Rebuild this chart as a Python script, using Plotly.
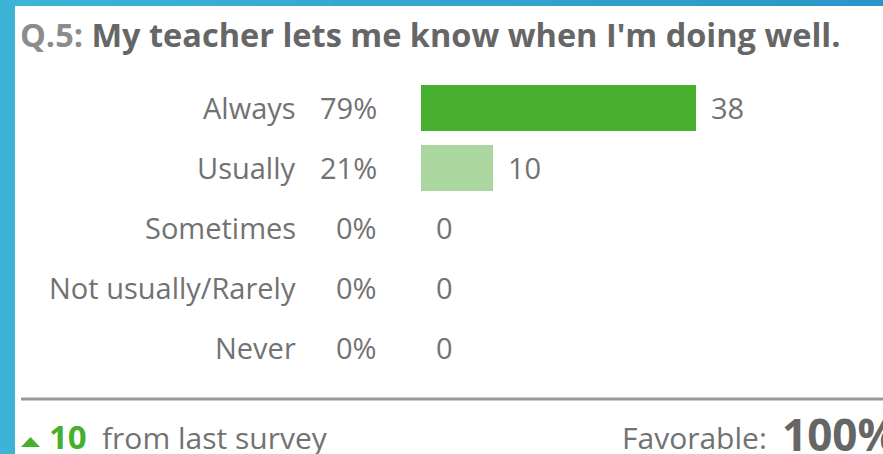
import plotly.graph_objects as go

# Survey responses for question 5
categories = ["Always", "Usually", "Sometimes", "Not usually/Rarely", "Never"]
counts = [38, 10, 0, 0, 0]
percents = [79, 21, 0, 0, 0]
bar_colors = ["#46b02e", "#acd6a0", "#acd6a0", "#acd6a0", "#acd6a0"]

question_no = "Q.5:"
question_text = "My teacher lets me know when I'm doing well."
change_from_last = 10
favorable_pct = 100

W, H = 883, 454
FONT = "Open Sans"
GRAY = "#727272"


def px(x):
    return x / W


def py(y):
    return 1 - y / H


fig = go.Figure()

fig.add_trace(go.Bar(
    y=categories,
    x=counts,
    orientation="h",
    marker=dict(color=bar_colors, line=dict(width=0)),
    width=0.77,
    hoverinfo="skip",
    showlegend=False,
))

annotations = []

# Category names and percentages to the left of the bars
for cat, pct in zip(categories, percents):
    annotations.append(dict(
        x=px(298), xref="paper", y=cat, yref="y",
        text=cat, showarrow=False, xanchor="right", yanchor="middle",
        font=dict(family=FONT, size=29, color=GRAY),
    ))
    annotations.append(dict(
        x=px(379), xref="paper", y=cat, yref="y",
        text=f"{pct}%", showarrow=False, xanchor="right", yanchor="middle",
        font=dict(family=FONT, size=29, color=GRAY),
    ))

# Count labels just past the end of each bar
for cat, n in zip(categories, counts):
    annotations.append(dict(
        x=n, xref="x", y=cat, yref="y",
        text=str(n), showarrow=False, xanchor="left", yanchor="middle",
        xshift=13,
        font=dict(family=FONT, size=29, color=GRAY),
    ))

# Question title
annotations.append(dict(
    x=px(18), xref="paper", y=py(34), yref="paper",
    text=f"<b><span style='color:#8c8c8c'>{question_no}</span> {question_text}</b>",
    showarrow=False, xanchor="left", yanchor="middle",
    font=dict(family=FONT, size=32.5, color="#666666"),
))

# Footer: change since last survey and favorable share
annotations.append(dict(
    x=px(47), xref="paper", y=py(436), yref="paper",
    text=f"<b>{change_from_last}</b>", showarrow=False,
    xanchor="left", yanchor="middle",
    font=dict(family=FONT, size=33, color="#46b02e"),
))
annotations.append(dict(
    x=px(100), xref="paper", y=py(437), yref="paper",
    text="from last survey", showarrow=False,
    xanchor="left", yanchor="middle",
    font=dict(family=FONT, size=30, color=GRAY),
))
annotations.append(dict(
    x=px(620), xref="paper", y=py(437), yref="paper",
    text="Favorable:", showarrow=False,
    xanchor="left", yanchor="middle",
    font=dict(family=FONT, size=30, color=GRAY),
))
annotations.append(dict(
    x=px(780), xref="paper", y=py(434), yref="paper",
    text=f"<b>{favorable_pct}%</b>", showarrow=False,
    xanchor="left", yanchor="middle",
    font=dict(family=FONT, size=44, color="#666666"),
))

shapes = [
    # white card on the blue background
    dict(type="rect", xref="paper", yref="paper",
         x0=px(15), x1=1.01, y0=-0.01, y1=py(6),
         fillcolor="white", line=dict(width=0), layer="below"),
    # divider above the footer
    dict(type="line", xref="paper", yref="paper",
         x0=px(21), x1=1.01, y0=py(399), y1=py(399),
         line=dict(color="#999999", width=3)),
    # green up-triangle for the change indicator
    dict(type="path", xref="paper", yref="paper",
         path=f"M {px(21)},{py(447)} L {px(40)},{py(447)} L {px(30.5)},{py(437)} Z",
         fillcolor="#46b02e", line=dict(width=0)),
]

# top edge of the frame shades from light to deeper blue
n_seg = 24
c0, c1 = (59, 180, 216), (44, 150, 200)
for i in range(n_seg):
    t = i / (n_seg - 1)
    r, g, b = (round(a + (bb - a) * t) for a, bb in zip(c0, c1))
    shapes.append(dict(
        type="rect", xref="paper", yref="paper",
        x0=i / n_seg, x1=(i + 1) / n_seg + 0.002, y0=py(6), y1=1.0,
        fillcolor=f"rgb({r},{g},{b})", line=dict(width=0), layer="below",
    ))

fig.update_layout(
    width=W, height=H,
    margin=dict(l=0, r=0, t=0, b=0),
    paper_bgcolor="#3bb4d8",
    plot_bgcolor="rgba(0,0,0,0)",
    xaxis=dict(domain=[px(421), px(696)], range=[0, 38], visible=False, fixedrange=True),
    yaxis=dict(domain=[py(377), py(78)], range=[4.5, -0.5], visible=False,
               categoryorder="array", categoryarray=categories, fixedrange=True),
    annotations=annotations,
    shapes=shapes,
    bargap=0,
)

fig.write_html("out.html")
